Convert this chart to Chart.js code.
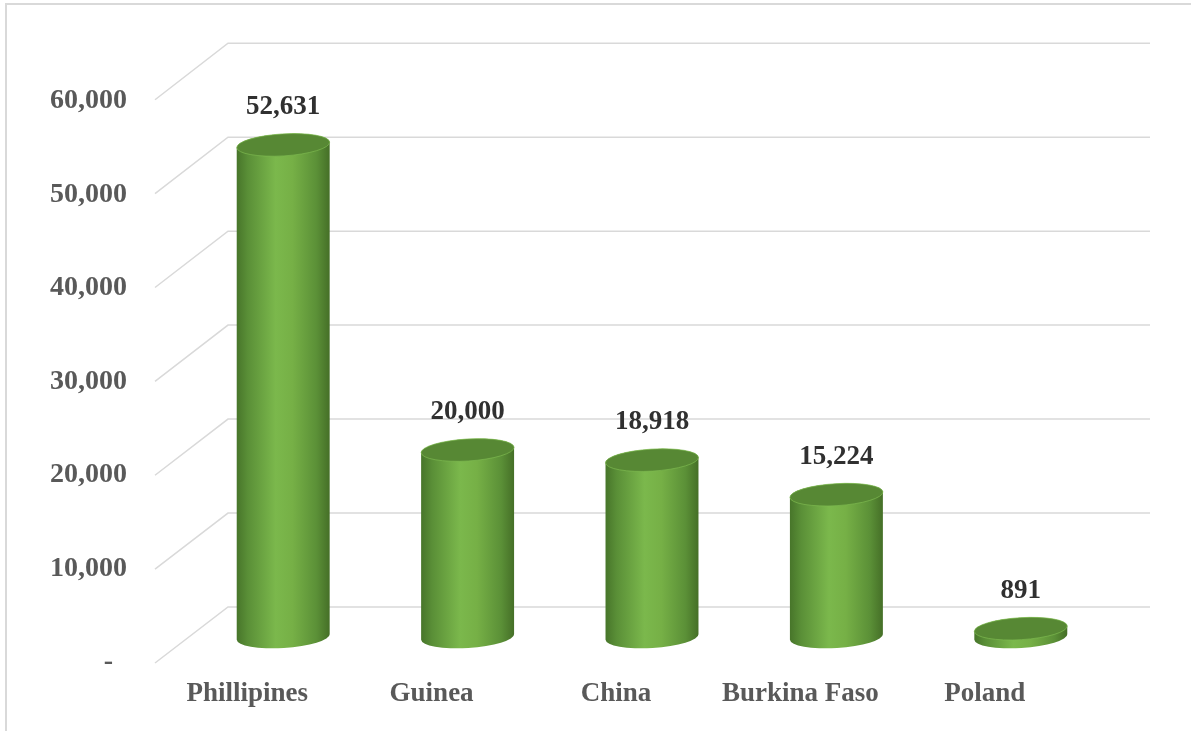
<!DOCTYPE html>
<html>
<head>
<meta charset="utf-8">
<script src="https://cdn.jsdelivr.net/npm/chart.js@4.4.1/dist/chart.umd.min.js"></script>
<style>
  html, body { margin: 0; padding: 0; background: #fff; overflow: hidden; }
  .frame { position: absolute; left: 5px; top: 3px; width: 1400px; height: 900px;
           border-left: 2px solid #d9d9d9; border-top: 2px solid #d9d9d9; }
  #chart { position: absolute; left: 0; top: 0; }
</style>
</head>
<body>
<div class="frame"></div>
<canvas id="chart" width="1191" height="731"></canvas>
<script>
const countries = ['Phillipines', 'Guinea', 'China', 'Burkina Faso', 'Poland'];
const volumes = [52631, 20000, 18918, 15224, 891];
const yMax = 60000;
const yStep = 10000;

const serif = '"Liberation Serif", "Times New Roman", serif';
const axisColor = '#595959';
const valueColor = '#303030';
const gridColor = '#d9d9d9';

// 3d look: back wall / front edge offsets relative to the bar plane
const depthX = 37;
const frontX = 36;

const backY = (scale, y) => scale.bottom - 30 - (scale.bottom - y) * 1.005;
const frontY = (scale, y) => y + 26 - (scale.bottom - y) * 0.004;

const wallGrid = {
    id: 'wallGrid',
    beforeDatasetsDraw(chart) {
        const ctx = chart.ctx;
        const y = chart.scales.y;
        const area = chart.chartArea;
        ctx.save();
        ctx.strokeStyle = gridColor;
        ctx.lineWidth = 1.5;
        y.ticks.forEach(t => {
            const py = y.getPixelForValue(t.value);
            const by = backY(y, py);
            const fy = frontY(y, py);
            ctx.beginPath();
            ctx.moveTo(area.left - frontX, fy);
            ctx.lineTo(area.left + depthX, by);
            ctx.lineTo(area.right + depthX, by);
            ctx.stroke();
        });
        ctx.restore();
    }
};

const cylinders = {
    id: 'cylinders',
    afterDatasetsDraw(chart) {
        const ctx = chart.ctx;
        const meta = chart.getDatasetMeta(0);
        const ry = 11;
        const rot = -0.06;
        ctx.save();
        meta.data.forEach((bar, i) => {
            const cx = bar.x;
            const rx = bar.width / 2;
            const top = bar.y;
            const base = bar.base;
            const dx = rx * Math.cos(rot), dy = rx * Math.sin(rot);

            const grad = ctx.createLinearGradient(cx - rx, 0, cx + rx, 0);
            grad.addColorStop(0, '#47752a');
            grad.addColorStop(0.12, '#5a8f37');
            grad.addColorStop(0.42, '#7bb84c');
            grad.addColorStop(0.6, '#76b046');
            grad.addColorStop(0.86, '#5b9037');
            grad.addColorStop(1, '#456f27');

            ctx.beginPath();
            ctx.moveTo(cx - dx, top - dy);
            ctx.lineTo(cx - dx, base - dy);
            ctx.ellipse(cx, base, rx, ry, rot, Math.PI, 0, true);
            ctx.lineTo(cx + dx, top + dy);
            ctx.ellipse(cx, top, rx, ry, rot, 0, Math.PI, true);
            ctx.closePath();
            ctx.fillStyle = grad;
            ctx.fill();

            // top face
            ctx.beginPath();
            ctx.ellipse(cx, top, rx, ry, rot, 0, Math.PI * 2);
            ctx.fillStyle = '#578834';
            ctx.fill();
            ctx.strokeStyle = 'rgba(125,185,80,0.7)';
            ctx.lineWidth = 1;
            ctx.stroke();

            // value label
            ctx.font = 'bold 27px ' + serif;
            ctx.fillStyle = valueColor;
            ctx.textAlign = 'center';
            ctx.textBaseline = 'middle';
            ctx.fillText(volumes[i].toLocaleString('en-US'), cx, top - 38);
        });
        ctx.restore();
    }
};

new Chart(document.getElementById('chart').getContext('2d'), {
    type: 'bar',
    data: {
        labels: countries,
        datasets: [{
            data: volumes,
            backgroundColor: 'rgba(0,0,0,0)',
            borderWidth: 0,
            categoryPercentage: 1,
            barPercentage: 0.505
        }]
    },
    options: {
        responsive: false,
        animation: false,
        devicePixelRatio: 1,
        layout: { padding: { top: 76, right: 78, left: 0, bottom: 0 } },
        plugins: { legend: { display: false }, tooltip: { enabled: false } },
        scales: {
            x: {
                grid: { display: false, drawTicks: false },
                border: { display: false },
                ticks: {
                    color: axisColor,
                    font: { family: serif, size: 27, weight: 'bold' },
                    padding: 41,
                    labelOffset: -36,
                    maxRotation: 0
                },
                afterFit(scale) { scale.height = 94; }
            },
            y: {
                min: 0,
                max: yMax,
                grid: { display: false, drawTicks: false },
                border: { display: false },
                ticks: {
                    stepSize: yStep,
                    color: axisColor,
                    font: { family: serif, size: 28, weight: 'bold' },
                    padding: 64,
                    labelOffset: 25,
                    callback: v => v === 0 ? '-  ' : v.toLocaleString('en-US')
                },
                afterFit(scale) {
                    scale.width = 191;
                    // tick padding would otherwise push the plot top down
                    scale.paddingTop = 0;
                    scale.paddingBottom = 0;
                }
            }
        }
    },
    plugins: [wallGrid, cylinders]
});
</script>
</body>
</html>
